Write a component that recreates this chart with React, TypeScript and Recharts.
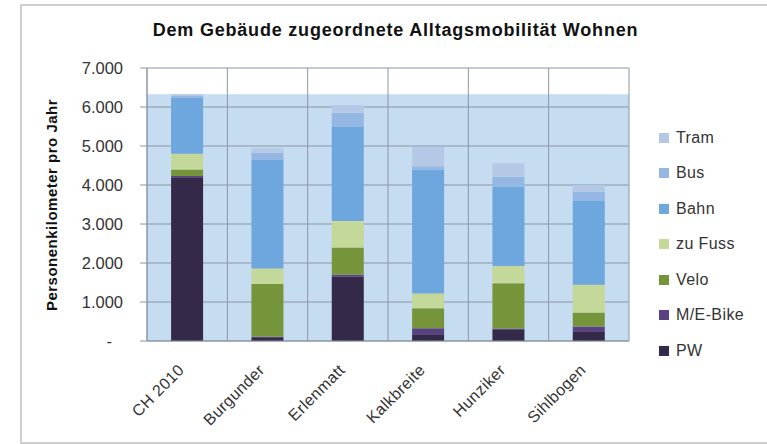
import {
  BarChart,
  Bar,
  XAxis,
  YAxis,
  CartesianGrid,
  ReferenceArea,
} from "recharts";

const sites = ["CH 2010", "Burgunder", "Erlenmatt", "Kalkbreite", "Hunziker", "Sihlbogen"];

// Personenkilometer pro Jahr, per mode (stack order bottom -> top)
const pw = [4200, 80, 1650, 170, 300, 250];
const eBike = [30, 30, 50, 160, 20, 120];
const velo = [170, 1350, 700, 510, 1160, 360];
const zuFuss = [400, 400, 680, 380, 440, 710];
const bahn = [1430, 2780, 2420, 3180, 2040, 2150];
const bus = [60, 190, 350, 80, 250, 240];
const tram = [40, 110, 200, 500, 350, 170];

const yTicks = [0, 1000, 2000, 3000, 4000, 5000, 6000, 7000];

const series = [
  { key: "PW", values: pw, color: "#35294a" },
  { key: "M/E-Bike", values: eBike, color: "#5a4282" },
  { key: "Velo", values: velo, color: "#76953a" },
  { key: "zu Fuss", values: zuFuss, color: "#c4d89a" },
  { key: "Bahn", values: bahn, color: "#6ea6de" },
  { key: "Bus", values: bus, color: "#94b8e3" },
  { key: "Tram", values: tram, color: "#b5c9e6" },
];

const data = sites.map((name, i) => {
  const row: Record<string, string | number> = { name };
  series.forEach((s) => (row[s.key] = s.values[i]));
  return row;
});

// band behind the bars reaches up to the CH 2010 total
const chTotal = series.reduce((sum, s) => sum + s.values[0], 0);

const FONT = "'Liberation Sans', Arial, sans-serif";

function formatThousands(v: number): string {
  return v.toString().replace(/\B(?=(\d{3})+(?!\d))/g, ".");
}

interface TickProps {
  x?: number;
  y?: number;
  payload?: { value: number | string };
}

function YTick({ x, y, payload }: TickProps) {
  if (x == null || y == null || !payload) return null;
  const v = Number(payload.value);
  const label = v === 0 ? "-" : formatThousands(v);
  return (
    <text
      x={v === 0 ? x - 11 : x}
      y={y}
      dy={6}
      textAnchor="end"
      fontSize={16.5}
      fill="#333"
      fontFamily={FONT}
    >
      {label}
    </text>
  );
}

function XTick({ x, y, payload }: TickProps) {
  if (x == null || y == null || !payload) return null;
  const ax = x - 2;
  const ay = y + 22;
  return (
    <text
      x={ax}
      y={ay}
      textAnchor="end"
      fontSize={16}
      letterSpacing={0.4}
      fill="#333"
      fontFamily={FONT}
      transform={`rotate(-45 ${ax} ${ay})`}
    >
      {payload.value}
    </text>
  );
}

function LegendBox() {
  const items = [...series].reverse();
  return (
    <div style={{ fontFamily: FONT, fontSize: 16, letterSpacing: 0.4, color: "#333" }}>
      {items.map((s) => (
        <div key={s.key} style={{ display: "flex", alignItems: "center", height: 35.5 }}>
          <span
            style={{ width: 10, height: 10, background: s.color, display: "inline-block", marginRight: 7 }}
          />
          {s.key}
        </div>
      ))}
    </div>
  );
}

export default function App() {
  return (
    <div style={{ position: "absolute", left: 0, top: 0, width: 767, height: 444, background: "#fff" }}>
      <div
        style={{
          position: "absolute",
          left: 20,
          top: 4,
          width: 760,
          height: 436,
          border: "2px solid #cfcfcf",
        }}
      />
      <div
        style={{
          position: "absolute",
          left: 0,
          width: 767,
          top: 20,
          textAlign: "center",
          paddingLeft: 24,
          boxSizing: "border-box",
          fontFamily: FONT,
          fontWeight: "bold",
          fontSize: 18,
          letterSpacing: 0.8,
          color: "#111",
        }}
      >
        Dem Gebäude zugeordnete Alltagsmobilität Wohnen
      </div>
      <div
        style={{
          position: "absolute",
          left: 51,
          top: 205,
          transform: "translate(-50%, -50%) rotate(-90deg)",
          whiteSpace: "nowrap",
          fontFamily: FONT,
          fontWeight: "bold",
          fontSize: 15,
          letterSpacing: 0.5,
          color: "#111",
        }}
      >
        Personenkilometer pro Jahr
      </div>
      <div style={{ position: "absolute", left: 0, top: 0 }}>
        <BarChart
          width={767}
          height={444}
          data={data}
          margin={{ top: 68, right: 138, bottom: 0, left: 0 }}
          barCategoryGap="30%"
        >
          <ReferenceArea y1={0} y2={chTotal} fill="#c5dcf1" fillOpacity={1} stroke="none" zIndex={-150} />
          <CartesianGrid
            stroke="#8a96a6"
            strokeWidth={1}
            horizontal
            vertical
            verticalCoordinatesGenerator={({ offset }: { offset: { left: number; width: number } }) =>
              sites.map((_, i) => offset.left + (i * offset.width) / sites.length).concat(offset.left + offset.width)
            }
          />
          <XAxis
            dataKey="name"
            height={103}
            tick={<XTick />}
            tickLine={false}
            axisLine={{ stroke: "#8a96a6" }}
            interval={0}
          />
          <YAxis
            width={147}
            domain={[0, 7000]}
            ticks={yTicks}
            tick={<YTick />}
            tickSize={7}
            tickMargin={17}
            tickLine={{ stroke: "#8a96a6" }}
            axisLine={{ stroke: "#8a96a6" }}
          />
          {series.map((s) => (
            <Bar key={s.key} dataKey={s.key} stackId="a" fill={s.color} isAnimationActive={false} />
          ))}
        </BarChart>
      </div>
      <div style={{ position: "absolute", left: 659, top: 120 }}>
        <LegendBox />
      </div>
    </div>
  );
}
